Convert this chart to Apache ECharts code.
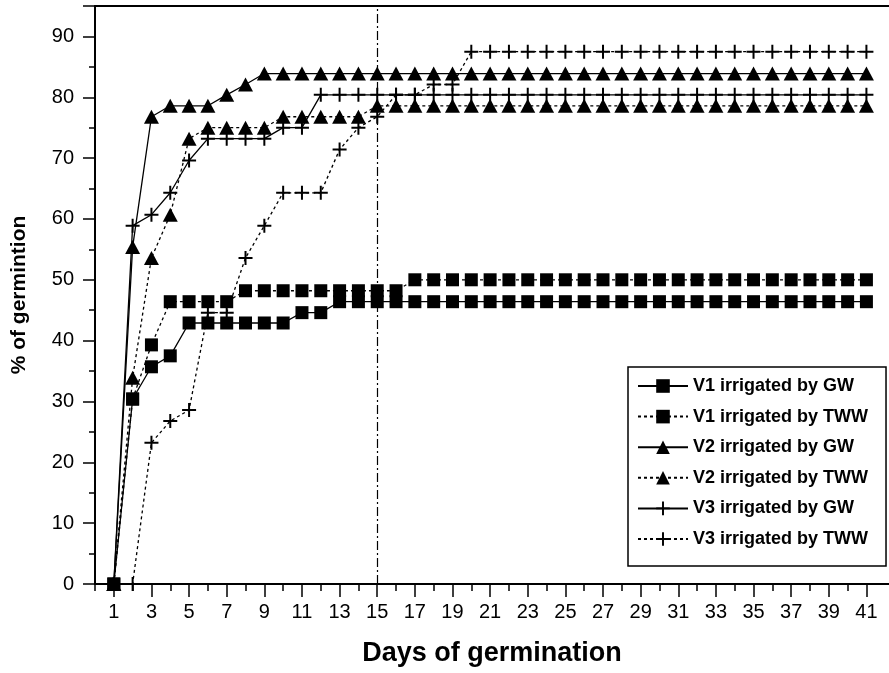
<!DOCTYPE html>
<html><head><meta charset="utf-8">
<script src="https://cdn.jsdelivr.net/npm/echarts@6/dist/echarts.min.js"></script>
<style>html,body{margin:0;padding:0;background:#fff}#c{width:889px;height:673px}</style>
</head><body><div id="c"></div>
<script>
const days = [1,2,3,4,5,6,7,8,9,10,11,12,13,14,15,16,17,18,19,20,21,22,23,24,25,26,27,28,29,30,31,32,33,34,35,36,37,38,39,40,41];
const xTickLabels = [1,3,5,7,9,11,13,15,17,19,21,23,25,27,29,31,33,35,37,39,41];
const xMinorTicks = [0,2,4,6,8,10,12,14,16,18,20,22,24,26,28,30,32,34,36,38,40];
const yTickLabels = [0,10,20,30,40,50,60,70,80,90];
const seriesNames = ['V1 irrigated by GW','V1 irrigated by TWW','V2 irrigated by GW','V2 irrigated by TWW','V3 irrigated by GW','V3 irrigated by TWW'];
const v1GW = [0,30.4,35.7,37.5,42.9,42.9,42.9,42.9,42.9,42.9,
  44.6,44.6,46.4,46.4,46.4,46.4,46.4,46.4,46.4,46.4,
  46.4,46.4,46.4,46.4,46.4,46.4,46.4,46.4,46.4,46.4,
  46.4,46.4,46.4,46.4,46.4,46.4,46.4,46.4,46.4,46.4,46.4];
const v1TWW = [0,30.4,39.3,46.4,46.4,46.4,46.4,48.2,48.2,48.2,
  48.2,48.2,48.2,48.2,48.2,48.2,50.0,50.0,50.0,50.0,
  50.0,50.0,50.0,50.0,50.0,50.0,50.0,50.0,50.0,50.0,
  50.0,50.0,50.0,50.0,50.0,50.0,50.0,50.0,50.0,50.0,50.0];
const v2GW = [0,55.4,76.8,78.6,78.6,78.6,80.4,82.1,83.9,83.9,
  83.9,83.9,83.9,83.9,83.9,83.9,83.9,83.9,83.9,83.9,
  83.9,83.9,83.9,83.9,83.9,83.9,83.9,83.9,83.9,83.9,
  83.9,83.9,83.9,83.9,83.9,83.9,83.9,83.9,83.9,83.9,83.9];
const v2TWW = [0,33.9,53.6,60.7,73.2,75.0,75.0,75.0,75.0,76.8,
  76.8,76.8,76.8,76.8,78.6,78.6,78.6,78.6,78.6,78.6,
  78.6,78.6,78.6,78.6,78.6,78.6,78.6,78.6,78.6,78.6,
  78.6,78.6,78.6,78.6,78.6,78.6,78.6,78.6,78.6,78.6,78.6];
const v3GW = [0,58.9,60.7,64.3,69.6,73.2,73.2,73.2,73.2,75.0,
  75.0,80.4,80.4,80.4,80.4,80.4,80.4,80.4,80.4,80.4,
  80.4,80.4,80.4,80.4,80.4,80.4,80.4,80.4,80.4,80.4,
  80.4,80.4,80.4,80.4,80.4,80.4,80.4,80.4,80.4,80.4,80.4];
const v3TWW = [0,0,23.2,26.8,28.6,44.6,44.6,53.6,58.9,64.3,
  64.3,64.3,71.4,75.0,76.8,80.4,80.4,82.1,82.1,87.5,
  87.5,87.5,87.5,87.5,87.5,87.5,87.5,87.5,87.5,87.5,
  87.5,87.5,87.5,87.5,87.5,87.5,87.5,87.5,87.5,87.5,87.5];
const refDay = 15;

const W = 889;
const gridLeft = 95, gridTop = 6, gridBottom = 89, gridRight = 0;
const xMax = 42.2;
const unit = (W - gridLeft - gridRight) / xMax;
const FONT = '"Liberation Sans", Arial, Helvetica, sans-serif';
const BLACK = '#000';
const PLUS = 'path://M6,0H8V6H14V8H8V14H6V8H0V6H6Z';

const allValues = [v1GW, v1TWW, v2GW, v2TWW, v3GW, v3TWW];
const symbols = ['rect','rect','triangle','triangle',PLUS,PLUS];
const sizes = [13,13,[15,14],[15,14],14,14];
const solid = [true,false,true,false,true,false];

const series = allValues.map((vals, i) => ({
  name: seriesNames[i],
  type: 'line',
  xAxisIndex: 2, yAxisIndex: 1,
  data: days.map((d, k) => [d, vals[k]]),
  symbol: symbols[i],
  symbolSize: sizes[i],
  showAllSymbol: true,
  clip: false,
  itemStyle: {color: BLACK, borderWidth: 0},
  lineStyle: {color: BLACK, width: 1.3, type: solid[i] ? 'solid' : [3,3]},
  emphasis: {disabled: true},
  z: 3
}));
series[0].markLine = {
  silent: true, symbol: 'none', label: {show: false},
  lineStyle: {color: BLACK, width: 1.2, type: [9,3,2,3]},
  data: [{xAxis: refDay}], z: 1
};

const chart = echarts.init(document.getElementById('c'), null, {renderer: 'canvas'});
chart.setOption({
  animation: false,
  backgroundColor: '#fff',
  textStyle: {fontFamily: FONT, color: BLACK},
  grid: [
    {left: gridLeft, top: gridTop, right: gridRight, bottom: gridBottom},
    {left: gridLeft + unit, top: gridTop, right: gridRight, bottom: gridBottom}
  ],
  legend: {
    orient: 'vertical', left: 628, top: 367,
    padding: [10, 18, 18, 9],
    borderColor: BLACK, borderWidth: 1.5,
    itemWidth: 50, itemHeight: 17, itemGap: 12.6,
    textStyle: {fontFamily: FONT, fontSize: 18, fontWeight: 'bold', color: BLACK, lineHeight: 18},
    data: seriesNames
  },
  xAxis: [
    {gridIndex: 0, type: 'value', min: 0, max: xMax, interval: 2,
     axisLine: {onZero: false, lineStyle: {color: BLACK, width: 2}},
     axisTick: {length: 7, customValues: xMinorTicks, lineStyle: {color: BLACK, width: 1.5}},
     axisLabel: {show: false}, splitLine: {show: false},
     name: 'Days of germination', nameLocation: 'middle', nameGap: 56,
     nameTextStyle: {fontFamily: FONT, fontSize: 27, fontWeight: 'bold', color: BLACK}},
    {gridIndex: 0, type: 'value', position: 'top', min: 0, max: xMax,
     axisLine: {onZero: false, lineStyle: {color: BLACK, width: 2}},
     axisTick: {show: false}, axisLabel: {show: false}, splitLine: {show: false}},
    {gridIndex: 1, type: 'value', min: xTickLabels[0], max: xMax, interval: 2,
     axisLine: {show: false, onZero: false},
     axisTick: {length: 13, customValues: xTickLabels, lineStyle: {color: BLACK, width: 1.5}},
     axisLabel: {fontFamily: FONT, fontSize: 20, color: BLACK, margin: 18, customValues: xTickLabels,
       formatter: v => xTickLabels.includes(v) ? String(v) : ''},
     splitLine: {show: false}}
  ],
  yAxis: [
    {gridIndex: 0, type: 'value', min: 0, max: 95, interval: 10,
     axisLine: {show: true, onZero: false, lineStyle: {color: BLACK, width: 2}},
     axisTick: {show: true, length: 12, lineStyle: {color: BLACK, width: 1.5}},
     minorTick: {show: true, splitNumber: 2, length: 6, lineStyle: {color: BLACK, width: 1.5}},
     axisLabel: {fontFamily: FONT, fontSize: 20, color: BLACK, margin: 21,
       formatter: v => yTickLabels.includes(v) ? String(v) : ''},
     splitLine: {show: false},
     name: '% of germintion', nameLocation: 'middle', nameGap: 65,
     nameTextStyle: {fontFamily: FONT, fontSize: 21, fontWeight: 'bold', color: BLACK}},
    {gridIndex: 1, type: 'value', min: 0, max: 95, show: false}
  ],
  series: series
});
</script></body></html>
